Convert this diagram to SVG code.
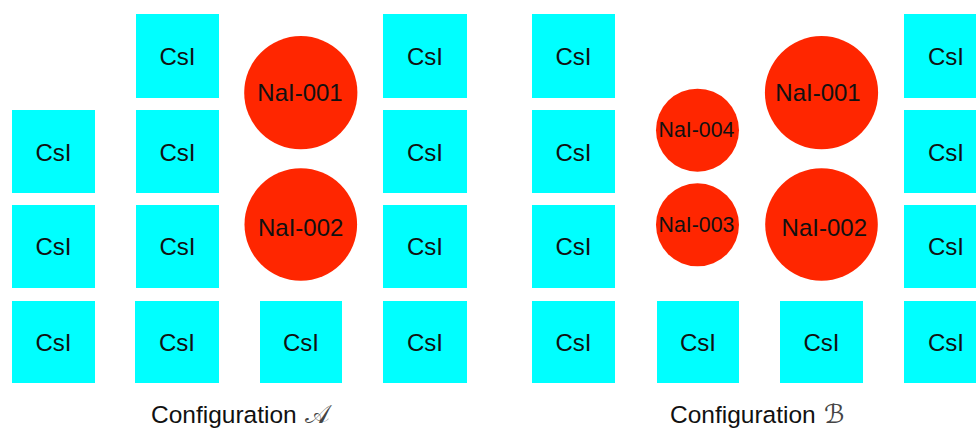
<svg xmlns="http://www.w3.org/2000/svg" width="976" height="429" viewBox="0 0 976 429">
  <style>
    .csi { fill: #00FFFF; }
    .nai { fill: #FF2600; }
    .lbl { font-family: "Liberation Sans", Arial, sans-serif; fill: #111; text-anchor: middle; }
    .s24 { font-size: 24px; }
    .s21 { font-size: 21.3px; }
    .cap { font-family: "Liberation Sans", Arial, sans-serif; font-size: 24.5px; fill: #111; }
    .scr { font-family: "DejaVu Serif", "DejaVu Sans", "Noto Sans", serif; font-size: 26px; fill: #444; }
    .scrb { font-family: "DejaVu Sans", "DejaVu Serif", serif; font-size: 26px; fill: #444; }
  </style>
  <rect width="976" height="429" fill="#FFFFFF"/>

  <!-- Configuration A: CsI crystals -->
  <g id="A-csi-c2r1"><rect class="csi" x="136" y="14" width="83" height="84"/><text class="lbl s24" x="177.5" y="65">CsI</text></g>
  <g id="A-csi-c4r1"><rect class="csi" x="383" y="14" width="84" height="84"/><text class="lbl s24" x="425" y="65">CsI</text></g>
  <g id="A-csi-c1r2"><rect class="csi" x="12" y="110" width="83" height="83"/><text class="lbl s24" x="53.5" y="161">CsI</text></g>
  <g id="A-csi-c2r2"><rect class="csi" x="136" y="110" width="83" height="83"/><text class="lbl s24" x="177.5" y="161">CsI</text></g>
  <g id="A-csi-c4r2"><rect class="csi" x="383" y="110" width="84" height="83"/><text class="lbl s24" x="425" y="161">CsI</text></g>
  <g id="A-csi-c1r3"><rect class="csi" x="12" y="205" width="83" height="83"/><text class="lbl s24" x="53.5" y="255">CsI</text></g>
  <g id="A-csi-c2r3"><rect class="csi" x="136" y="205" width="83" height="83"/><text class="lbl s24" x="177.5" y="255">CsI</text></g>
  <g id="A-csi-c4r3"><rect class="csi" x="383" y="205" width="84" height="83"/><text class="lbl s24" x="425" y="255">CsI</text></g>
  <g id="A-csi-c1r4"><rect class="csi" x="12" y="301" width="83" height="82"/><text class="lbl s24" x="53.5" y="351">CsI</text></g>
  <g id="A-csi-c2r4"><rect class="csi" x="135" y="301" width="84" height="82"/><text class="lbl s24" x="177" y="351">CsI</text></g>
  <g id="A-csi-c3r4"><rect class="csi" x="260" y="301" width="82" height="82"/><text class="lbl s24" x="301" y="351">CsI</text></g>
  <g id="A-csi-c4r4"><rect class="csi" x="383" y="301" width="84" height="82"/><text class="lbl s24" x="425" y="351">CsI</text></g>

  <!-- Configuration A: NaI crystals -->
  <g id="A-nai-001"><circle class="nai" cx="300.8" cy="92.7" r="56.6"/><text class="lbl s24" x="300" y="101">NaI-001</text></g>
  <g id="A-nai-002"><circle class="nai" cx="300.8" cy="224.5" r="56.3"/><text class="lbl s24" x="300.7" y="236">NaI-002</text></g>

  <text class="cap" x="151" y="423">Configuration <tspan class="scr" x="305">𝒜</tspan></text>

  <!-- Configuration B: CsI crystals -->
  <g id="B-csi-c1r1"><rect class="csi" x="532" y="14" width="83" height="84"/><text class="lbl s24" x="573.5" y="65">CsI</text></g>
  <g id="B-csi-c4r1"><rect class="csi" x="904" y="14" width="84" height="84"/><text class="lbl s24" x="946" y="65">CsI</text></g>
  <g id="B-csi-c1r2"><rect class="csi" x="532" y="110" width="83" height="83"/><text class="lbl s24" x="573.5" y="161">CsI</text></g>
  <g id="B-csi-c4r2"><rect class="csi" x="904" y="110" width="84" height="83"/><text class="lbl s24" x="946" y="161">CsI</text></g>
  <g id="B-csi-c1r3"><rect class="csi" x="532" y="205" width="83" height="83"/><text class="lbl s24" x="573.5" y="255">CsI</text></g>
  <g id="B-csi-c4r3"><rect class="csi" x="904" y="205" width="84" height="83"/><text class="lbl s24" x="946" y="255">CsI</text></g>
  <g id="B-csi-c1r4"><rect class="csi" x="532" y="301" width="83" height="82"/><text class="lbl s24" x="573.5" y="351">CsI</text></g>
  <g id="B-csi-c2r4"><rect class="csi" x="657" y="301" width="82" height="82"/><text class="lbl s24" x="698" y="351">CsI</text></g>
  <g id="B-csi-c3r4"><rect class="csi" x="780" y="301" width="83" height="82"/><text class="lbl s24" x="821.5" y="351">CsI</text></g>
  <g id="B-csi-c4r4"><rect class="csi" x="904" y="301" width="84" height="82"/><text class="lbl s24" x="946" y="351">CsI</text></g>

  <!-- Configuration B: NaI crystals -->
  <g id="B-nai-004"><circle class="nai" cx="697.5" cy="130.2" r="41.5"/><text class="lbl s21" x="696.5" y="137.3">NaI-004</text></g>
  <g id="B-nai-003"><circle class="nai" cx="697.5" cy="224.8" r="41.5"/><text class="lbl s21" x="696.5" y="232.3">NaI-003</text></g>
  <g id="B-nai-001"><circle class="nai" cx="821.5" cy="92.7" r="56.6"/><text class="lbl s24" x="818" y="101">NaI-001</text></g>
  <g id="B-nai-002"><circle class="nai" cx="821.5" cy="224.5" r="56.3"/><text class="lbl s24" x="824.3" y="236">NaI-002</text></g>

  <text class="cap" x="670" y="423">Configuration <tspan class="scrb" x="824">ℬ</tspan></text>

  <!-- no connectors in this layout -->
  <g id="connectors"/>
</svg>
